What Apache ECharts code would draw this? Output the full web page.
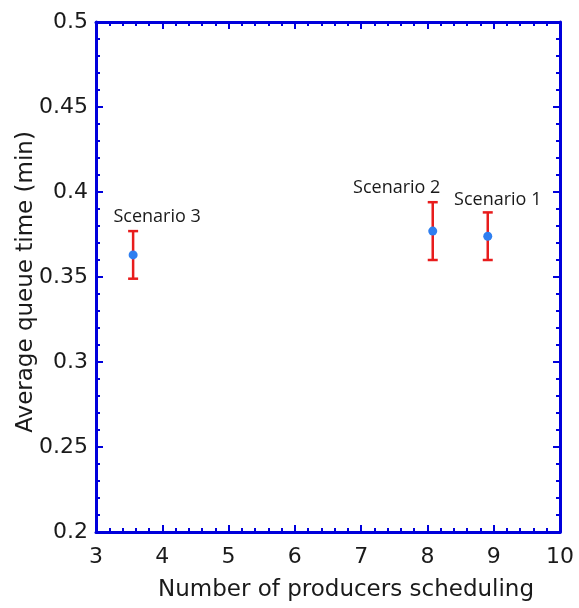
<!DOCTYPE html>
<html>
<head>
<meta charset="utf-8">
<script src="https://cdn.jsdelivr.net/npm/echarts@6/dist/echarts.min.js"></script>
<style>
html,body{margin:0;padding:0;background:#fff;}
#chart{width:579px;height:608px;}
</style>
</head>
<body>
<div id="chart"></div>
<script>
// Scenario results: mean queue time with its lower / upper bounds
const scenarios = ['Scenario 3', 'Scenario 2', 'Scenario 1'];
const producers = [3.56, 8.08, 8.91];
const meanQueue = [0.363, 0.377, 0.374];
const lowerQueue = [0.349, 0.360, 0.360];
const upperQueue = [0.377, 0.394, 0.388];

const xTicks = [3, 4, 5, 6, 7, 8, 9, 10];
const yTicks = [0.2, 0.25, 0.3, 0.35, 0.4, 0.45, 0.5];

// label placement relative to each point (pixels)
const labelOffsets = [[24, -38], [-36, -43], [10, -36]];

const AXIS_BLUE = '#0000dc';
const TEXT = '#1a1a1a';
const fontAxis = 'DejaVu Sans, Liberation Sans, sans-serif';

const chart = echarts.init(document.getElementById('chart'));

function axisBase(showLabel) {
  return {
    axisLine: { show: true, onZero: false, lineStyle: { color: AXIS_BLUE, width: 3 } },
    axisTick: { show: true, inside: true, length: 7, lineStyle: { color: AXIS_BLUE, width: 2 } },
    minorTick: { show: true, splitNumber: 5, length: 4, lineStyle: { color: AXIS_BLUE, width: 2 } },
    splitLine: { show: false },
    axisLabel: { show: showLabel }
  };
}

const xMin = xTicks[0], xMax = xTicks[xTicks.length - 1];
const yMin = yTicks[0], yMax = yTicks[yTicks.length - 1];

const option = {
  animation: false,
  backgroundColor: '#fff',
  grid: { left: 96, right: 19, top: 22, bottom: 76, containLabel: false },
  xAxis: [
    Object.assign(axisBase(true), {
      type: 'value', min: xMin, max: xMax, interval: 1, position: 'bottom',
      name: 'Number of producers scheduling', nameLocation: 'middle', nameGap: 47,
      nameMoveOverlap: false,
      nameTextStyle: { fontSize: 23, fontFamily: fontAxis, color: TEXT, padding: [0, 0, 0, 36] },
      axisLabel: { show: true, color: TEXT, fontSize: 22, fontFamily: fontAxis, margin: 14 }
    }),
    Object.assign(axisBase(false), {
      type: 'value', min: xMin, max: xMax, interval: 1, position: 'top'
    })
  ],
  yAxis: [
    Object.assign(axisBase(true), {
      type: 'value', min: yMin, max: yMax, interval: 0.05, position: 'left',
      name: 'Average queue time (min)', nameLocation: 'middle', nameGap: 58,
      nameMoveOverlap: false,
      nameTextStyle: { fontSize: 23, fontFamily: fontAxis, color: TEXT, padding: [0, 10, 0, 0] },
      axisLabel: {
        show: true, color: TEXT, fontSize: 22, fontFamily: fontAxis, margin: 8,
        formatter: v => String(parseFloat(v.toFixed(2)))
      }
    }),
    Object.assign(axisBase(false), {
      type: 'value', min: yMin, max: yMax, interval: 0.05, position: 'right'
    })
  ],
  series: [
    {
      type: 'custom',
      xAxisIndex: 0, yAxisIndex: 0,
      data: producers.map((x, i) => [x, lowerQueue[i], upperQueue[i]]),
      renderItem: function (params, api) {
        const lo = api.coord([api.value(0), api.value(1)]);
        const hi = api.coord([api.value(0), api.value(2)]);
        const cap = 5;
        const style = { stroke: '#e81c1c', lineWidth: 2.5 };
        return {
          type: 'group',
          children: [
            { type: 'line', shape: { x1: lo[0], y1: lo[1], x2: hi[0], y2: hi[1] }, style: style },
            { type: 'line', shape: { x1: lo[0] - cap, y1: lo[1], x2: lo[0] + cap, y2: lo[1] }, style: style },
            { type: 'line', shape: { x1: hi[0] - cap, y1: hi[1], x2: hi[0] + cap, y2: hi[1] }, style: style }
          ]
        };
      },
      z: 2
    },
    {
      type: 'scatter',
      xAxisIndex: 0, yAxisIndex: 0,
      symbolSize: 9,
      itemStyle: { color: '#2f7ff0', opacity: 1 },
      data: producers.map((x, i) => ({
        value: [x, meanQueue[i]],
        name: scenarios[i],
        label: {
          show: true,
          formatter: scenarios[i],
          position: 'inside',
          offset: labelOffsets[i],
          color: TEXT,
          fontSize: 18,
          fontFamily: 'Open Sans, Noto Sans, sans-serif'
        }
      })),
      z: 3
    }
  ]
};

chart.setOption(option);
</script>
</body>
</html>
